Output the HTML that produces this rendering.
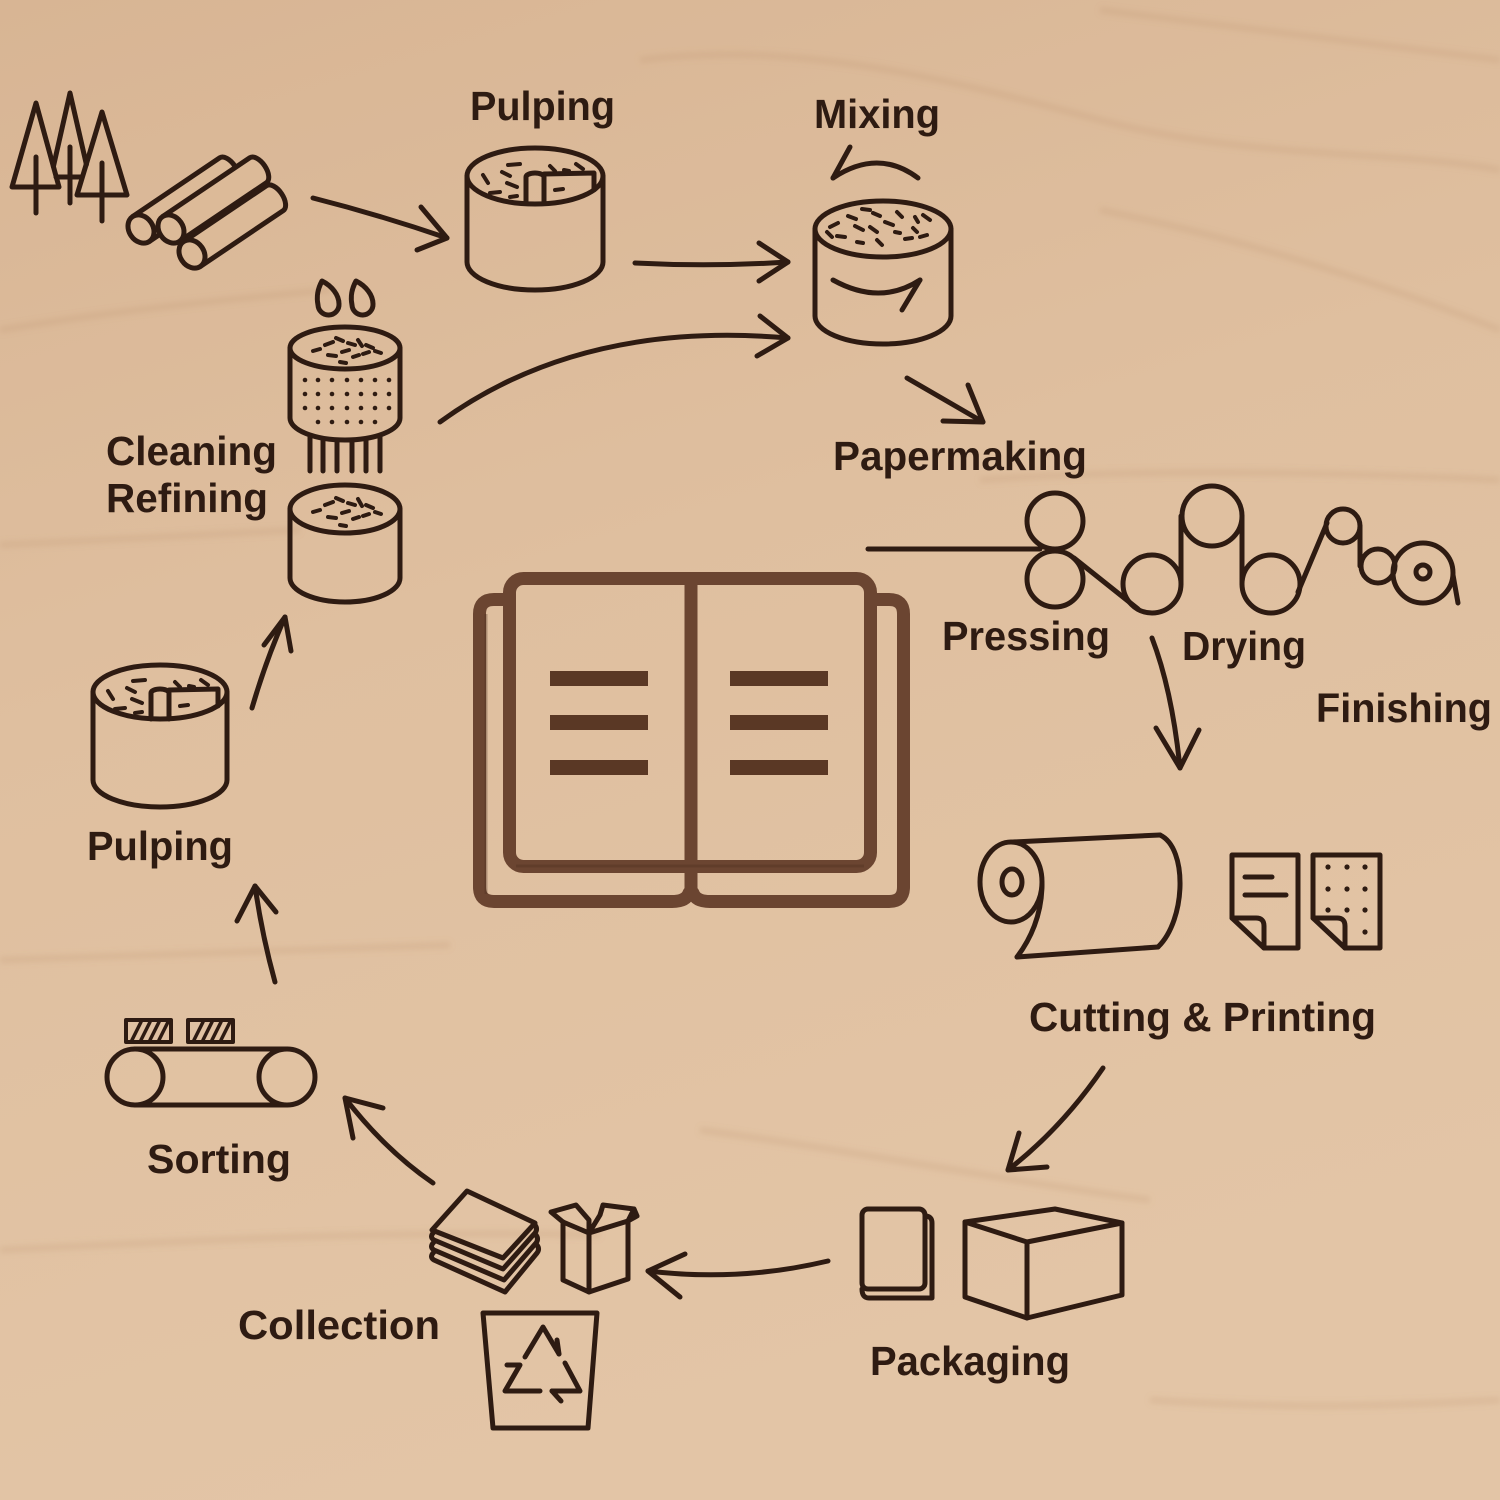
<!DOCTYPE html>
<html>
<head>
<meta charset="utf-8">
<style>
  html,body{margin:0;padding:0;}
  body{width:1500px;height:1500px;overflow:hidden;background:#dfbe9d;}
  svg{display:block;}
  .lbl{font-family:"Liberation Sans",Arial,sans-serif;font-weight:bold;font-size:41px;fill:#2e1b12;}
</style>
</head>
<body>
<svg width="1500" height="1500" viewBox="0 0 1500 1500" xmlns="http://www.w3.org/2000/svg">
  <defs>
    <linearGradient id="bg" x1="0" y1="0" x2="0.3" y2="1">
      <stop offset="0" stop-color="#d8b594"/>
      <stop offset="0.45" stop-color="#dfbf9f"/>
      <stop offset="1" stop-color="#e3c5a6"/>
    </linearGradient>
    <filter id="blur" x="-10%" y="-10%" width="120%" height="120%"><feGaussianBlur stdDeviation="3"/></filter>
  </defs>
  <rect width="1500" height="1500" fill="url(#bg)"/>
  <!-- wood grain streaks -->
  <g fill="none" stroke="#b98c66" stroke-opacity="0.18" stroke-width="7" filter="url(#blur)">
    <path d="M0 330 C 120 310 220 300 330 290"/>
    <path d="M0 545 C 100 540 200 535 300 530"/>
    <path d="M640 60 C 800 40 950 80 1100 120 C 1250 160 1400 150 1500 170"/>
    <path d="M1100 10 C 1250 30 1350 40 1500 60"/>
    <path d="M1100 210 C 1250 240 1400 290 1500 330"/>
    <path d="M980 480 C 1100 470 1300 470 1500 480"/>
    <path d="M0 1250 C 200 1240 400 1230 600 1235"/>
    <path d="M700 1130 C 850 1150 1000 1180 1150 1200"/>
    <path d="M0 960 C 150 955 300 950 450 945"/>
    <path d="M1150 1400 C 1300 1410 1400 1405 1500 1400"/>
  </g>

  <g fill="none" stroke="#2e1b12" stroke-width="5" stroke-linecap="round" stroke-linejoin="round">
    <!-- Trees -->
    <polyline points="53.4,166.5 70,93 86.4,164.5"/>
    <line x1="56" y1="177" x2="82" y2="177"/>
    <line x1="70" y1="147" x2="70" y2="203"/>
    <polygon points="12,187 36,103 59,187"/>
    <line x1="36" y1="157" x2="36" y2="213"/>
    <polygon points="77,195 102,112 127,195"/>
    <line x1="102" y1="163" x2="102" y2="221"/>

    <!-- Logs -->
    <g fill="#dcba98">
      <g transform="translate(141,229) rotate(-34)">
        <path d="M0 -15 L105 -15 A8 15 0 0 1 105 15 L0 15 Z"/>
        <ellipse cx="0" cy="0" rx="12" ry="15"/>
      </g>
      <g transform="translate(171,229) rotate(-34)">
        <path d="M0 -15 L105 -15 A8 15 0 0 1 105 15 L0 15 Z"/>
        <ellipse cx="0" cy="0" rx="12" ry="15"/>
      </g>
      <g transform="translate(192,254) rotate(-34)">
        <path d="M0 -15 L100 -15 A8 15 0 0 1 100 15 L0 15 Z"/>
        <ellipse cx="0" cy="0" rx="12" ry="15"/>
      </g>
    </g>

    <!-- Arrow to Pulping -->
    <path d="M313 198 Q 380 215 447 238"/>
    <polyline points="421,207 447,238 417,250"/>

    <!-- Pulping top cylinder -->
    <ellipse cx="535" cy="176" rx="68" ry="28"/>
    <path d="M467 176 V262 A68 28 0 0 0 603 262 V176"/>
    <path d="M526 203 V177 A9 4 0 0 1 544 177 V203"/>
    <polyline points="544,174 594,173 594,190"/>
    <g stroke-width="4">
      <line x1="483" y1="175" x2="488" y2="183"/>
      <line x1="502" y1="172" x2="510" y2="176"/>
      <line x1="508" y1="165" x2="520" y2="164"/>
      <line x1="507" y1="183" x2="517" y2="187"/>
      <line x1="490" y1="193" x2="500" y2="192"/>
      <line x1="510" y1="197" x2="517" y2="196"/>
      <line x1="550" y1="166" x2="555" y2="171"/>
      <line x1="564" y1="170" x2="569" y2="171"/>
      <line x1="576" y1="164" x2="583" y2="169"/>
      <line x1="555" y1="190" x2="563" y2="189"/>
    </g>

    <!-- Arrow pulping -> mixing -->
    <path d="M635 263 Q 712 267 788 262"/>
    <polyline points="759,243 788,262 759,281"/>

    <!-- Mixing -->
    <path d="M918 178 Q 878 148 833 178"/>
    <line x1="833" y1="178" x2="850" y2="147"/>
    <ellipse cx="883" cy="229" rx="68" ry="28"/>
    <path d="M815 229 V316 A68 28 0 0 0 951 316 V229"/>
    <path d="M833 280 Q 880 306 920 280"/>
    <line x1="920" y1="280" x2="902" y2="310"/>
    <g stroke-width="4">
      <line x1="830" y1="227" x2="838" y2="223"/>
      <line x1="827" y1="232" x2="832" y2="237"/>
      <line x1="848" y1="216" x2="856" y2="219"/>
      <line x1="862" y1="209" x2="870" y2="210"/>
      <line x1="855" y1="226" x2="863" y2="230"/>
      <line x1="837" y1="236" x2="845" y2="237"/>
      <line x1="857" y1="242" x2="863" y2="243"/>
      <line x1="873" y1="213" x2="880" y2="216"/>
      <line x1="870" y1="227" x2="877" y2="232"/>
      <line x1="885" y1="222" x2="893" y2="225"/>
      <line x1="897" y1="212" x2="902" y2="217"/>
      <line x1="895" y1="232" x2="900" y2="233"/>
      <line x1="877" y1="240" x2="882" y2="245"/>
      <line x1="915" y1="217" x2="918" y2="222"/>
      <line x1="923" y1="215" x2="930" y2="220"/>
      <line x1="905" y1="239" x2="912" y2="238"/>
      <line x1="920" y1="237" x2="927" y2="235"/>
      <line x1="913" y1="228" x2="917" y2="232"/>
    </g>

    <!-- Big arc cleaning -> mixing -->
    <path d="M440 422 Q 580 320 788 338"/>
    <polyline points="760,316 788,338 757,356"/>

    <!-- Arrow mixing -> papermaking -->
    <line x1="907" y1="378" x2="983" y2="422"/>
    <polyline points="968,385 983,422 943,421"/>

    <!-- Cleaning drops -->
    <path d="M322 281 C 316 292 317 300 318 305 A10.5 10.5 0 0 0 339 304 C 339 295 332 286 322 281 Z"/>
    <path d="M356 281 C 350 292 351 300 352 305 A10.5 10.5 0 0 0 373 304 C 373 295 366 286 356 281 Z"/>

    <!-- Cleaning top cylinder -->
    <ellipse cx="345" cy="348" rx="55" ry="21"/>
    <path d="M290 348 V418 A55 22 0 0 0 400 418 V348"/>
    <g stroke-width="4">
      <line x1="313" y1="351" x2="320" y2="349"/>
      <line x1="325" y1="345" x2="333" y2="342"/>
      <line x1="336" y1="338" x2="343" y2="341"/>
      <line x1="348" y1="343" x2="355" y2="345"/>
      <line x1="358" y1="340" x2="362" y2="346"/>
      <line x1="366" y1="345" x2="373" y2="348"/>
      <line x1="375" y1="351" x2="381" y2="353"/>
      <line x1="328" y1="355" x2="336" y2="356"/>
      <line x1="342" y1="352" x2="349" y2="350"/>
      <line x1="353" y1="357" x2="359" y2="355"/>
      <line x1="363" y1="354" x2="369" y2="352"/>
      <line x1="340" y1="362" x2="346" y2="363"/>
    </g>
    <!-- strands -->
    <line x1="310" y1="437" x2="310" y2="471"/>
    <line x1="323" y1="439" x2="323" y2="471"/>
    <line x1="337" y1="440" x2="337" y2="471"/>
    <line x1="352" y1="440" x2="352" y2="471"/>
    <line x1="366" y1="439" x2="366" y2="471"/>
    <line x1="380" y1="437" x2="380" y2="471"/>

    <!-- Cleaning bottom cylinder -->
    <ellipse cx="345" cy="509" rx="55" ry="24"/>
    <path d="M290 509 V578 A55 24 0 0 0 400 578 V509"/>
    <g stroke-width="4">
      <line x1="313" y1="512" x2="320" y2="510"/>
      <line x1="325" y1="505" x2="333" y2="502"/>
      <line x1="336" y1="498" x2="343" y2="501"/>
      <line x1="348" y1="503" x2="355" y2="505"/>
      <line x1="358" y1="499" x2="362" y2="506"/>
      <line x1="366" y1="505" x2="373" y2="508"/>
      <line x1="375" y1="512" x2="381" y2="514"/>
      <line x1="328" y1="517" x2="336" y2="518"/>
      <line x1="342" y1="513" x2="349" y2="511"/>
      <line x1="353" y1="519" x2="359" y2="517"/>
      <line x1="363" y1="516" x2="369" y2="514"/>
      <line x1="340" y1="525" x2="346" y2="526"/>
    </g>

    <!-- Left pulping cylinder -->
    <ellipse cx="160" cy="692" rx="67" ry="27"/>
    <path d="M93 692 V780 A67 27 0 0 0 227 780 V692"/>
    <path d="M151 719 V693 A9 4 0 0 1 169 693 V719"/>
    <polyline points="169,690 218,689 218,706"/>
    <g stroke-width="4">
      <line x1="108" y1="691" x2="113" y2="699"/>
      <line x1="127" y1="688" x2="135" y2="692"/>
      <line x1="133" y1="681" x2="145" y2="680"/>
      <line x1="132" y1="699" x2="142" y2="703"/>
      <line x1="115" y1="709" x2="125" y2="708"/>
      <line x1="135" y1="713" x2="142" y2="712"/>
      <line x1="175" y1="682" x2="180" y2="687"/>
      <line x1="189" y1="686" x2="194" y2="687"/>
      <line x1="201" y1="680" x2="208" y2="685"/>
      <line x1="180" y1="706" x2="188" y2="705"/>
    </g>

    <!-- Arrow left pulping -> cleaning -->
    <path d="M252 708 Q 266 660 285 617"/>
    <polyline points="264,645 285,617 291,651"/>

    <!-- Papermaking machine -->
    <line x1="868" y1="549" x2="1040" y2="549"/>
    <circle cx="1055" cy="521" r="28"/>
    <circle cx="1055" cy="579" r="28"/>
    <line x1="1074" y1="558" x2="1138" y2="609"/>
    <circle cx="1152" cy="584" r="29"/>
    <line x1="1181" y1="584" x2="1181" y2="516"/>
    <circle cx="1212" cy="516" r="30"/>
    <line x1="1242" y1="516" x2="1242" y2="584"/>
    <circle cx="1271" cy="584" r="29"/>
    <line x1="1298" y1="592" x2="1327" y2="523"/>
    <circle cx="1343" cy="526" r="17"/>
    <line x1="1360" y1="526" x2="1360" y2="566"/>
    <circle cx="1378" cy="566" r="17"/>
    <circle cx="1423" cy="573" r="30"/>
    <circle cx="1423" cy="572" r="7"/>
    <line x1="1453" y1="575" x2="1458" y2="603"/>

    <!-- Arrow down to cutting -->
    <path d="M1152 638 Q 1172 690 1180 768"/>
    <polyline points="1156,728 1180,768 1199,730"/>

    <!-- Paper roll -->
    <ellipse cx="1011" cy="882" rx="31" ry="40"/>
    <ellipse cx="1012" cy="882" rx="10" ry="13"/>
    <line x1="1013" y1="842" x2="1160" y2="835"/>
    <path d="M1160 835 C 1188 848 1186 920 1158 947"/>
    <line x1="1158" y1="947" x2="1017" y2="957"/>
    <path d="M1042 884 C 1042 915 1030 940 1017 957"/>

    <!-- Sheets -->
    <path d="M1232 855 H1298 V948 H1264 L1232 918 Z"/>
    <path d="M1232 918 H1256 Q1264 918 1264 926 V948"/>
    <line x1="1245" y1="877" x2="1272" y2="877"/>
    <line x1="1245" y1="895" x2="1286" y2="895"/>
    <path d="M1313 855 H1380 V948 H1345 L1313 918 Z"/>
    <path d="M1313 918 H1337 Q1345 918 1345 926 V948"/>

    <!-- Arrow cutting -> packaging -->
    <path d="M1103 1068 Q 1062 1128 1008 1170"/>
    <polyline points="1019,1133 1008,1170 1047,1167"/>

    <!-- Packaging book -->
    <rect x="862" y="1209" width="63" height="80" rx="6"/>
    <path d="M925 1216 Q932 1216 932 1223 V1298 H869 Q862 1298 862 1289"/>
    <!-- Box -->
    <polygon points="965,1222 1055,1209 1122,1223 1122,1295 1027,1318 965,1297"/>
    <polyline points="965,1222 1027,1242 1122,1223"/>
    <line x1="1027" y1="1242" x2="1027" y2="1318"/>

    <!-- Arrow packaging -> collection -->
    <path d="M828 1261 Q 740 1282 648 1271"/>
    <polyline points="685,1254 648,1271 680,1297"/>

    <!-- Paper stack -->
    <polygon points="467,1191 535,1223 503,1258 432,1230"/>
    <path d="M434 1232 Q 429 1237 434 1240 L503 1269 L535 1233 Q 538 1229 535 1225"/>
    <path d="M434 1242 Q 429 1247 434 1250 L504 1280 L536 1243 Q 539 1239 536 1235"/>
    <path d="M434 1252 Q 429 1257 434 1260 L505 1292 L537 1253 Q 540 1249 537 1245"/>

    <!-- Open box -->
    <path d="M563 1222 V1280 L589 1292 L628 1279 V1221"/>
    <line x1="589" y1="1233" x2="589" y2="1292"/>
    <polyline points="563,1222 589,1233 628,1221"/>
    <polyline points="563,1222 551,1212 576,1205 589,1220 589,1233"/>
    <polyline points="589,1233 600,1215 603,1205 634,1209 628,1221"/>
    <polyline points="634,1209 637,1216 628,1221"/>

    <!-- Bin -->
    <polygon points="483,1313 597,1313 588,1428 493,1428"/>
    <polyline points="525,1357 543,1327 559,1354"/>
    <line x1="557" y1="1340" x2="559" y2="1354"/>
    <polyline points="565,1363 580,1391 552,1391"/>
    <line x1="552" y1="1391" x2="561" y2="1401"/>
    <polyline points="540,1391 505,1391 520,1365 507,1365"/>

    <!-- Arrow collection -> sorting -->
    <path d="M433 1183 Q 385 1150 345 1098"/>
    <polyline points="353,1138 345,1098 383,1108"/>

    <!-- Sorting conveyor -->
    <circle cx="135" cy="1077" r="28"/>
    <circle cx="287" cy="1077" r="28"/>
    <line x1="135" y1="1049" x2="287" y2="1049"/>
    <line x1="135" y1="1105" x2="287" y2="1105"/>
    <rect x="126" y="1020" width="45" height="22" stroke-width="4"/>
    <rect x="188" y="1020" width="45" height="22" stroke-width="4"/>
    <g stroke-width="3.5">
      <line x1="132" y1="1040" x2="141" y2="1022"/>
      <line x1="141" y1="1040" x2="150" y2="1022"/>
      <line x1="150" y1="1040" x2="159" y2="1022"/>
      <line x1="159" y1="1040" x2="168" y2="1022"/>
      <line x1="194" y1="1040" x2="203" y2="1022"/>
      <line x1="203" y1="1040" x2="212" y2="1022"/>
      <line x1="212" y1="1040" x2="221" y2="1022"/>
      <line x1="221" y1="1040" x2="230" y2="1022"/>
    </g>

    <!-- Arrow sorting -> pulping -->
    <path d="M275 982 Q 262 935 255 886"/>
    <polyline points="237,921 255,886 276,912"/>
  </g>

  <!-- dots -->
  <g fill="#2e1b12">
    <!-- cleaning grid -->
    <g>
      <circle cx="305" cy="380" r="2.3"/><circle cx="318" cy="380" r="2.3"/><circle cx="332" cy="380" r="2.3"/><circle cx="347" cy="380" r="2.3"/><circle cx="361" cy="380" r="2.3"/><circle cx="375" cy="380" r="2.3"/><circle cx="389" cy="380" r="2.3"/>
      <circle cx="305" cy="394" r="2.3"/><circle cx="318" cy="394" r="2.3"/><circle cx="332" cy="394" r="2.3"/><circle cx="347" cy="394" r="2.3"/><circle cx="361" cy="394" r="2.3"/><circle cx="375" cy="394" r="2.3"/><circle cx="389" cy="394" r="2.3"/>
      <circle cx="305" cy="408" r="2.3"/><circle cx="318" cy="408" r="2.3"/><circle cx="332" cy="408" r="2.3"/><circle cx="347" cy="408" r="2.3"/><circle cx="361" cy="408" r="2.3"/><circle cx="375" cy="408" r="2.3"/><circle cx="389" cy="408" r="2.3"/>
      <circle cx="318" cy="422" r="2.3"/><circle cx="332" cy="422" r="2.3"/><circle cx="347" cy="422" r="2.3"/><circle cx="361" cy="422" r="2.3"/><circle cx="375" cy="422" r="2.3"/>
    </g>
    <!-- sheet dots -->
    <circle cx="1328" cy="867" r="2.6"/><circle cx="1347" cy="867" r="2.6"/><circle cx="1365" cy="867" r="2.6"/>
    <circle cx="1328" cy="889" r="2.6"/><circle cx="1347" cy="889" r="2.6"/><circle cx="1365" cy="889" r="2.6"/>
    <circle cx="1328" cy="910" r="2.6"/><circle cx="1347" cy="910" r="2.6"/><circle cx="1365" cy="910" r="2.6"/>
    <circle cx="1365" cy="932" r="2.6"/>
  </g>

  <!-- Book -->
  <g fill="none" stroke="#6b4531" stroke-width="13" stroke-linecap="round" stroke-linejoin="round">
    <path d="M509.5 599.5 H494 Q479.5 599.5 479.5 614 V887 Q479.5 901.5 494 901.5 H672 Q686 901.5 689 893"/>
    <path d="M870.5 599.5 H889 Q903.5 599.5 903.5 614 V887 Q903.5 901.5 889 901.5 H710 Q696 901.5 693 893"/>
    <rect x="509.5" y="578.5" width="361" height="288" rx="14"/>
    <line x1="691" y1="580" x2="691" y2="896" stroke-linecap="butt"/>
  </g>
  <g fill="none" stroke="#4e2f1f" stroke-width="3" stroke-opacity="0.35">
    <path d="M516 866 H864"/>
    <path d="M486 894 V614"/>
  </g>
  <g fill="#5a3825">
    <rect x="550" y="671" width="98" height="15"/>
    <rect x="550" y="715" width="98" height="15"/>
    <rect x="550" y="760" width="98" height="15"/>
    <rect x="730" y="671" width="98" height="15"/>
    <rect x="730" y="715" width="98" height="15"/>
    <rect x="730" y="760" width="98" height="15"/>
  </g>

  <!-- Labels -->
  <text class="lbl" x="470" y="120" textLength="145" lengthAdjust="spacingAndGlyphs">Pulping</text>
  <text class="lbl" x="814" y="128" textLength="126" lengthAdjust="spacingAndGlyphs">Mixing</text>
  <text class="lbl" x="833" y="470" textLength="254" lengthAdjust="spacingAndGlyphs">Papermaking</text>
  <text class="lbl" x="106" y="465" textLength="171" lengthAdjust="spacingAndGlyphs">Cleaning</text>
  <text class="lbl" x="106" y="512" textLength="162" lengthAdjust="spacingAndGlyphs">Refining</text>
  <text class="lbl" x="942" y="650" textLength="168" lengthAdjust="spacingAndGlyphs">Pressing</text>
  <text class="lbl" x="1182" y="660" textLength="124" lengthAdjust="spacingAndGlyphs">Drying</text>
  <text class="lbl" x="1316" y="722" textLength="176" lengthAdjust="spacingAndGlyphs">Finishing</text>
  <text class="lbl" x="87" y="860" textLength="146" lengthAdjust="spacingAndGlyphs">Pulping</text>
  <text class="lbl" x="1029" y="1031" textLength="347" lengthAdjust="spacingAndGlyphs">Cutting &amp; Printing</text>
  <text class="lbl" x="147" y="1173" textLength="144" lengthAdjust="spacingAndGlyphs">Sorting</text>
  <text class="lbl" x="238" y="1339" textLength="202" lengthAdjust="spacingAndGlyphs">Collection</text>
  <text class="lbl" x="870" y="1375" textLength="200" lengthAdjust="spacingAndGlyphs">Packaging</text>
</svg>
</body>
</html>
